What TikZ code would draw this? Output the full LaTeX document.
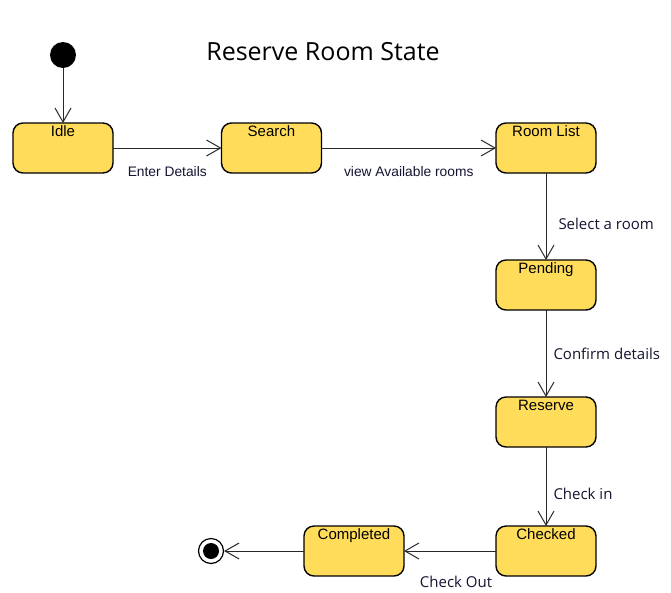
\documentclass[tikz,border=0pt]{standalone}
\usepackage{fontspec}
\setmainfont{Liberation Sans}
\newfontfamily\opensans{Open Sans}
\usetikzlibrary{arrows.meta}
\definecolor{stfill}{RGB}{255,221,90}
\definecolor{lbl}{RGB}{20,20,50}
\tikzset{
  st/.style={draw=black, line width=1.4pt, fill=stfill, rounded corners=10pt,
    minimum width=100pt, minimum height=50pt, inner sep=0pt, outer sep=0pt},
  sttext/.style={font=\fontsize{15}{17}\selectfont, anchor=north, inner sep=0pt},
  tr/.style={draw={rgb,255:red,40;green,40;blue,40}, line width=1pt,
    -{Straight Barb[length=14pt,width=16pt,line width=1pt]}},
  elab/.style={font=\fontsize{13.8}{15}\selectfont, text=lbl, inner sep=0pt},
  olab/.style={font=\opensans\fontsize{15}{17}\selectfont, text=lbl, inner sep=0pt, anchor=west},
}
\begin{document}
\begin{tikzpicture}[x=1pt,y=-1pt]
\useasboundingbox (0,0) rectangle (671,592);
\node[font=\opensans\fontsize{25}{29}\selectfont, text=black] (title) at (323,52) {Reserve Room State};
\node[circle, fill=black, minimum size=26pt, inner sep=0pt] (init) at (63,55) {};
\node[st] (idle) at (63,148) {};
\node[sttext] (idlet) at (63,125.5) {Idle};
\node[st] (search) at (271.5,148) {};
\node[sttext] (searcht) at (271.5,125.5) {Search};
\node[st] (rlist) at (546,148) {};
\node[sttext] (rlistt) at (546,125.5) {Room List};
\node[st] (pend) at (546,285) {};
\node[sttext] (pendt) at (546,262.5) {Pending};
\node[st] (res) at (546,422) {};
\node[sttext] (rest) at (546,399.5) {Reserve};
\node[st] (chk) at (546,551) {};
\node[sttext] (chkt) at (546,528.5) {Checked};
\node[st] (comp) at (354,551) {};
\node[sttext] (compt) at (354,528.5) {Completed};
\node[circle, draw=black, line width=1.2pt, fill=white, minimum size=25pt, inner sep=0pt] (fin) at (211,551) {};
\node[circle, fill=black, minimum size=16pt, inner sep=0pt] (fininner) at (211,551) {};

\draw[tr] (init) -- (idle);
\draw[tr] (idle) -- node[elab, yshift=-24pt]{Enter Details} (search);
\draw[tr] (search) -- node[elab, yshift=-24pt]{view Available rooms} (rlist);
\draw[tr] (rlist) -- node[olab, xshift=12pt, yshift=-7.5pt]{Select a room} (pend);
\draw[tr] (pend) -- node[olab, xshift=7pt]{Confirm details} (res);
\draw[tr] (res) -- node[olab, xshift=7pt, yshift=-7.5pt]{Check in} (chk);
\draw[tr] (chk) -- node[olab, anchor=center, xshift=6pt, yshift=-31pt]{Check Out} (comp);
\draw[tr] (comp) -- (fin);
\end{tikzpicture}
\end{document}
